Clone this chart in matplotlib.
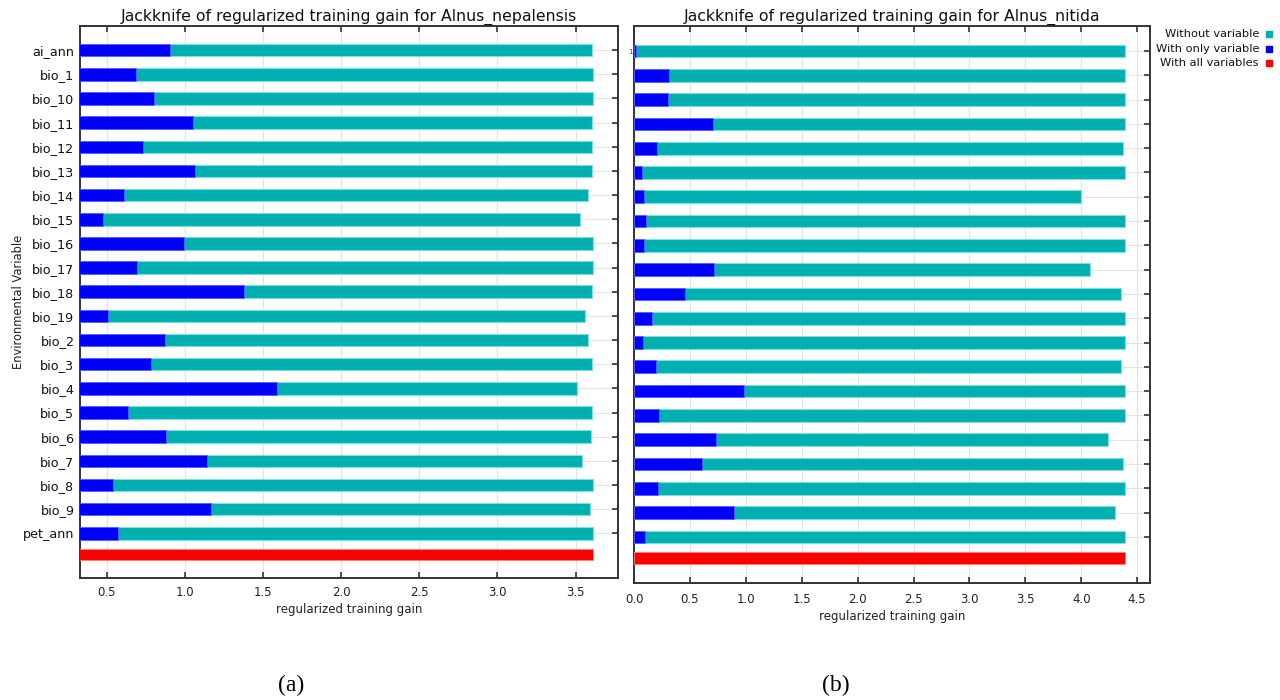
import matplotlib
matplotlib.use("Agg")
import matplotlib.pyplot as plt
from matplotlib.patches import Rectangle
import numpy as np

variables = ["ai_ann", "bio_1", "bio_10", "bio_11", "bio_12", "bio_13", "bio_14",
             "bio_15", "bio_16", "bio_17", "bio_18", "bio_19", "bio_2", "bio_3",
             "bio_4", "bio_5", "bio_6", "bio_7", "bio_8", "bio_9", "pet_ann"]

# Alnus_nepalensis
nep_without = [3.604, 3.611, 3.611, 3.604, 3.604, 3.604, 3.577, 3.528, 3.611, 3.611, 3.604,
               3.562, 3.583, 3.604, 3.508, 3.604, 3.598, 3.543, 3.611, 3.590, 3.611]
nep_only = [0.906, 0.687, 0.802, 1.053, 0.732, 1.066, 0.608, 0.474, 0.996, 0.691, 1.378,
            0.509, 0.870, 0.781, 1.591, 0.636, 0.876, 1.140, 0.541, 1.168, 0.570]
nep_all = 3.611

# Alnus_nitida
nit_without = [4.391, 4.391, 4.391, 4.391, 4.370, 4.391, 4.000, 4.391, 4.391, 4.074, 4.352,
               4.391, 4.391, 4.352, 4.391, 4.391, 4.239, 4.370, 4.391, 4.305, 4.391]
nit_only = [0.020, 0.317, 0.308, 0.711, 0.206, 0.072, 0.093, 0.111, 0.093, 0.717, 0.460,
            0.165, 0.081, 0.197, 0.983, 0.224, 0.732, 0.609, 0.215, 0.896, 0.099]
nit_all = 4.391

titles = ["Jackknife of regularized training gain for Alnus_nepalensis",
          "Jackknife of regularized training gain for Alnus_nitida"]
legend_labels = ["Without variable", "With only variable", "With all variables"]

TEAL = "#00B0B0"
BLUE = "#0000FF"
RED = "#FF0000"
W, H = 1280, 700

plt.rcParams['font.family'] = ['DejaVu Sans']
fig = plt.figure(figsize=(12.8, 7.0), dpi=100)


def px_axes(x0, y0, x1, y1):
    return fig.add_axes([x0 / W, 1 - y1 / H, (x1 - x0) / W, (y1 - y0) / H])


def draw(ax, without, only, allv, xlim, xticks, ylim, title, xpad):
    n = len(variables)
    ypos = np.arange(n)
    h = 0.52
    ax.barh(ypos, without, height=h, color=TEAL, edgecolor="#7fe0e0", linewidth=0.8, zorder=2)
    ax.barh(ypos, only, height=h, color=BLUE, edgecolor="#6060ff", linewidth=0.6, zorder=3)
    ax.barh([n - 0.12], [allv], height=h * 0.92, color=RED, edgecolor="#ff8080",
            linewidth=0.6, zorder=3)
    ax.set_xlim(*xlim)
    ax.set_ylim(*ylim)
    ax.set_xticks(xticks)
    ax.set_xticklabels([f"{t:.1f}" for t in xticks], fontsize=8.5, color="#222222")
    ax.set_yticks(ypos)
    ax.grid(True, color="#e4e4e4", linewidth=0.9, zorder=0)
    ax.set_axisbelow(True)
    ax.tick_params(axis="x", direction="in", top=True, bottom=True, length=4,
                   width=1.2, pad=xpad, color="#333333")
    ax.tick_params(axis="y", direction="in", right=True, left=False, length=4,
                   width=1.2, color="#333333")
    for s in ax.spines.values():
        s.set_linewidth(1.4)
        s.set_color("#333333")
    ax.set_title(title, fontsize=11.3, pad=4, color="#111111")
    ax.set_xlabel("regularized training gain", fontsize=8.5, labelpad=3, color="#222222")


ax1 = px_axes(80, 26, 618, 578)
draw(ax1, nep_without, nep_only, nep_all, (0.328, 3.772),
     [0.5, 1.0, 1.5, 2.0, 2.5, 3.0, 3.5], (21.85, -1.0), titles[0], 6)
ax1.set_yticklabels(variables, fontsize=9.2, color="#111111")
ax1.tick_params(axis="y", pad=4)
ax1.set_ylabel("Environmental Variable", fontsize=8.3, color="#222222")
ax1.yaxis.set_label_coords((25 - 80) / 538, 0.5)

ax2 = px_axes(634, 26, 1150, 583)
draw(ax2, nit_without, nit_only, nit_all, (0.0, 4.615),
     [0.0, 0.5, 1.0, 1.5, 2.0, 2.5, 3.0, 3.5, 4.0, 4.5], (21.9, -1.03), titles[1], 7)
ax2.tick_params(axis="y", left=True, labelleft=True, pad=1)
ax2.set_yticklabels(["1"] + [""] * (len(variables) - 1), fontsize=5, color="#444444")

# legend (manual, right side)
for i, (lab, col) in enumerate(zip(legend_labels, [TEAL, BLUE, RED])):
    yy = 34 + i * 14.5
    fig.text(1259 / W, 1 - yy / H, lab, ha="right", va="center", fontsize=8.2, color="#111111")
    fig.patches.append(Rectangle(((1266) / W, 1 - (yy + 3) / H), 6 / W, 6 / H,
                                 transform=fig.transFigure, color=col, figure=fig))

fig.text(291 / W, 1 - 685 / H, "(a)", ha="center", va="center", fontsize=17,
         family="Liberation Serif")
fig.text(836 / W, 1 - 685 / H, "(b)", ha="center", va="center", fontsize=17,
         family="Liberation Serif")

fig.savefig("out.png", dpi=100)
